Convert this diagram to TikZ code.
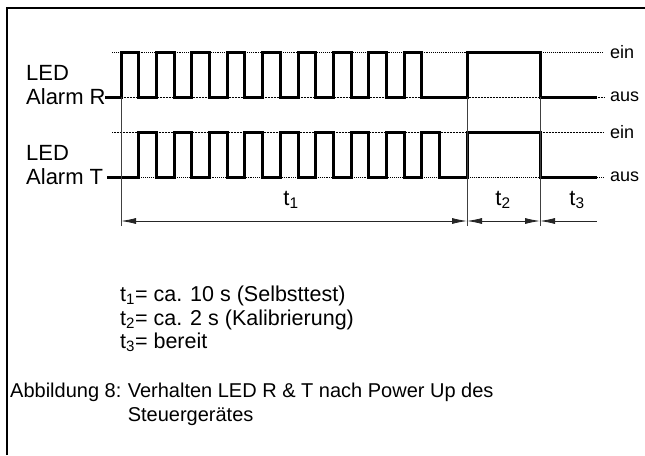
\documentclass[tikz,border=0pt]{standalone}
\usepackage{fontspec}
\setmainfont{Liberation Sans}
\usetikzlibrary{arrows.meta,positioning}
\newcommand{\halfT}{17.7}
\tikzset{
  sigline/.style={line width=3pt, line join=miter},
  levelline/.style={densely dotted, line width=#1, shorten >=6pt},
  levelline/.default={0.5pt},
  markline/.style={line width=0.6pt, draw=black!75},
  dimarr/.style={{Latex[length=15pt,width=6pt]}-{Latex[length=15pt,width=6pt]},
    line width=0.8pt, draw=black!85},
  dimarrL/.style={{Latex[length=15pt,width=6pt]}-, line width=0.8pt, draw=black!85},
  siglabel/.style={align=left, inner sep=0pt, font=\fontsize{22}{24}\selectfont},
  lvllabel/.style={anchor=west, inner sep=0pt, font=\fontsize{18}{20}\selectfont},
  txtfont/.style={inner sep=0pt, font=\fontsize{#1}{23.5}\selectfont},
  txtfont/.default={20},
}

\begin{document}
\begin{tikzpicture}[x=1pt, y=-1pt]
  \useasboundingbox (0,0) rectangle (645,455);
  \draw[line width=2pt] (7,455) -- (7,8) -- (645,8);

  \node[siglabel, anchor=west] (ledR) at (26,85) {LED\\Alarm R};
  \node[siglabel, anchor=west] (ledT) at (26,165) {LED\\Alarm T};

  \node[lvllabel] (onR) at (610,52) {ein};
  \node[lvllabel] (offR) at (610,97) {aus};
  \node[lvllabel] (onT) at (610,132) {ein};
  \node[lvllabel] (offT) at (610,177) {aus};
  \draw[levelline=0.9pt] (112,52) -- (onR.west);
  \draw[levelline] (107,97) -- (offR.west);
  \draw[levelline] (112,132) -- (onT.west);
  \draw[levelline=0.9pt] (107,177) -- (offT.west);

  \draw[sigline] (105,97)
    foreach \k in {0,...,8} { -- ({121+2*\k*\halfT},97) -- ++(0,-45) -- ++(\halfT,0) -- ++(0,45) }
    -- (467,97) -- (467,52) -- (540,52) -- (540,97) -- (597,97);
  \draw[sigline] (107,177)
    foreach \k in {0,...,8} { -- ({121+(2*\k+1)*\halfT},177) -- ++(0,-45) -- ++(\halfT,0) -- ++(0,45) }
    -- (467,177) -- (467,132) -- (540,132) -- (540,177) -- (597,177);

  \coordinate (m0) at (121,221);
  \coordinate (m1) at (467,221);
  \coordinate (m2) at (540,221);
  \coordinate (m3) at (597,221);
  \foreach \m in {m0,m1,m2}
    \draw[markline] ([yshift=-5pt]\m) -- (\m |- 0,97);
  \draw[dimarr] (m0) -- (m1);
  \draw[dimarr] (m1) -- (m2);
  \draw[dimarrL] (m2) -- (m3);
  \node[siglabel] (lt1) at (291,200) {t\textsubscript{1}};
  \node[siglabel] (lt2) at (503,200) {t\textsubscript{2}};
  \node[siglabel] (lt3) at (577,200) {t\textsubscript{3}};

  \node[txtfont=21.5, anchor=west, align=left] (times) at (120,319)
    {t\textsubscript{1}= ca. 10 s (Selbsttest)\\
     t\textsubscript{2}= ca. 2 s (Kalibrierung)\\
     t\textsubscript{3}= bereit};

  \node[txtfont, anchor=base west] (capA) at (10,397) {Abbildung 8:};
  \node[txtfont, anchor=base west] (capB) at ([xshift=6pt]capA.base east)
    {Verhalten LED R \& T nach Power Up des};
  \node[txtfont, anchor=base west] (capC) at ([yshift=-24pt]capB.base west)
    {Steuergerätes};
\end{tikzpicture}
\end{document}
